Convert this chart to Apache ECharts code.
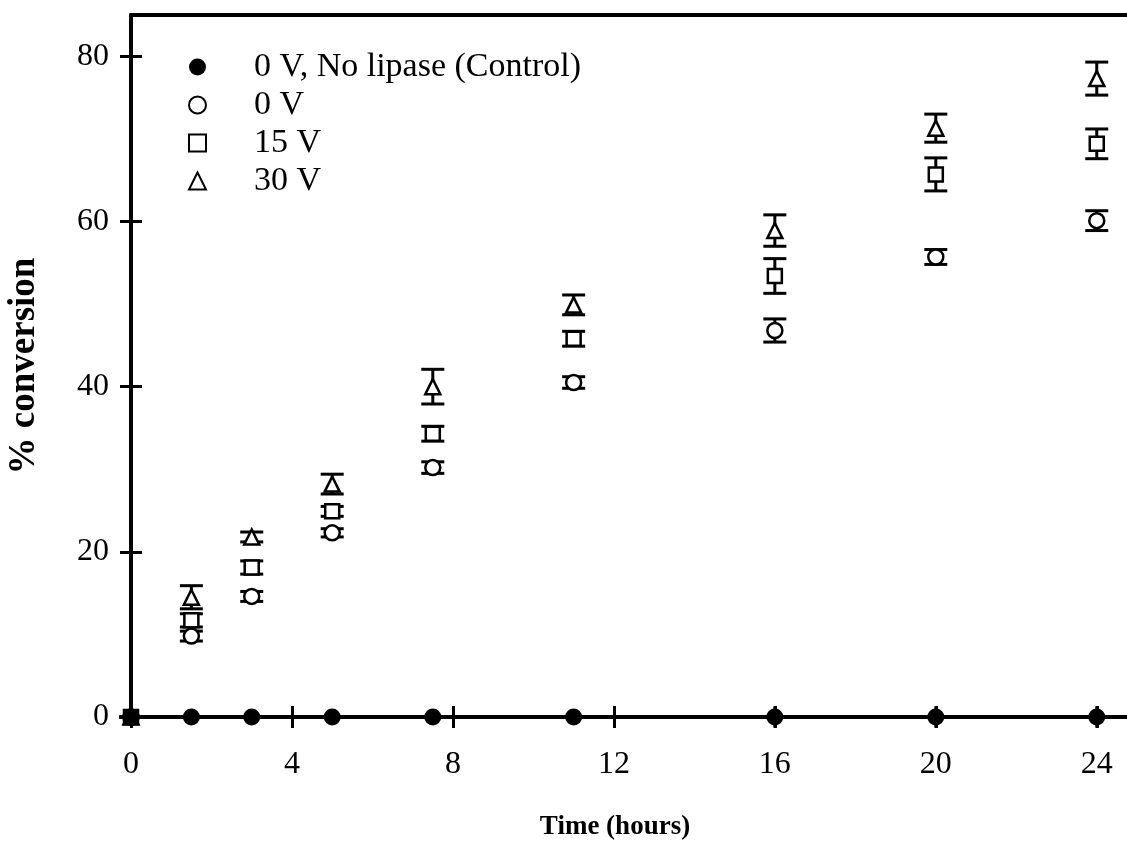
<!DOCTYPE html>
<html>
<head>
<meta charset="utf-8">
<script src="https://cdn.jsdelivr.net/npm/echarts@6/dist/echarts.min.js"></script>
<style>
  html, body { margin: 0; padding: 0; background: #fff; }
  #chart { width: 1127px; height: 842px; }
</style>
</head>
<body>
<div id="chart"></div>
<script>
// Sampling times (hours)
const times = [0, 1.5, 3, 5, 7.5, 11, 16, 20, 24];
const xTicks = [0, 4, 8, 12, 16, 20, 24];
const yTicks = [0, 20, 40, 60, 80];

// % conversion and error for each condition
const controlVals = [0, 0, 0, 0, 0, 0, 0, 0, 0];
const controlErr  = [0, 0, 0, 0, 0, 0, 1.3, 1.3, 1.3];
const v0Vals  = [0, 9.8, 14.6, 22.3, 30.2, 40.5, 46.8, 55.7, 60.1];
const v0Err   = [0, 0.6, 0.6, 0.5, 0.7, 0.7, 1.4, 0.9, 1.2];
const v15Vals = [0, 11.7, 18.1, 24.9, 34.3, 45.8, 53.4, 65.7, 69.4];
const v15Err  = [0, 0.8, 0.8, 0.6, 0.9, 0.9, 2.1, 2.0, 1.8];
const v30Vals = [0, 14.5, 21.8, 28.2, 40.0, 49.9, 58.9, 71.3, 77.3];
const v30Err  = [0, 1.4, 0.6, 1.2, 2.1, 1.2, 1.9, 1.7, 2.0];

const names = ['0 V, No lipase (Control)', '0 V', '15 V', '30 V'];

const FONT = "'Liberation Serif', 'Times New Roman', serif";

function points(vals) { return times.map((t, i) => [t, vals[i]]); }
function bars(vals, errs) { return times.map((t, i) => [t, vals[i] - errs[i], vals[i] + errs[i]]); }

// Vertical error bar with horizontal caps
function errorBarSeries(vals, errs, capHalf) {
  return {
    type: 'custom',
    silent: true,
    clip: false,
    z: 3,
    data: bars(vals, errs),
    renderItem: function (params, api) {
      const x = api.value(0);
      const lo = api.coord([x, api.value(1)]);
      const hi = api.coord([x, api.value(2)]);
      const st = { stroke: '#000', lineWidth: 3 };
      const children = [
        { type: 'line', shape: { x1: lo[0], y1: lo[1], x2: hi[0], y2: hi[1] }, style: st }
      ];
      if (capHalf > 0) {
        children.push(
          { type: 'line', shape: { x1: lo[0] - capHalf, y1: lo[1], x2: lo[0] + capHalf, y2: lo[1] }, style: st },
          { type: 'line', shape: { x1: hi[0] - capHalf, y1: hi[1], x2: hi[0] + capHalf, y2: hi[1] }, style: st }
        );
      }
      return { type: 'group', children: children };
    }
  };
}

const openStyle = { color: '#fff', borderColor: '#000', borderWidth: 2.5, opacity: 1 };
const tickStyle = { color: '#000', width: 3 };

const chart = echarts.init(document.getElementById('chart'), null, { renderer: 'canvas' });

chart.setOption({
  animation: false,
  backgroundColor: '#fff',
  grid: {
    left: 131, top: 15, right: -10, bottom: 125,
    outerBoundsMode: 'none', containLabel: false
  },
  legend: {
    orient: 'vertical',
    left: 183, top: 45,
    itemWidth: 17, itemHeight: 17, itemGap: 4,
    data: names,
    textStyle: { fontFamily: FONT, fontSize: 34, lineHeight: 34, color: '#000', padding: [0, 0, 0, 43] }
  },
  xAxis: [
    {
      type: 'value', min: 0, max: 25, position: 'bottom',
      name: 'Time (hours)', nameLocation: 'middle', nameGap: 97,
      nameTextStyle: { fontFamily: FONT, fontSize: 27, fontWeight: 'bold', color: '#000', padding: [0, 38, 0, 0] },
      splitLine: { show: false },
      axisLine: { show: true, onZero: false, lineStyle: { color: '#000', width: 4 } },
      axisTick: { show: true, inside: true, length: 11, lineStyle: tickStyle, customValues: xTicks },
      axisLabel: { fontFamily: FONT, fontSize: 32, color: '#000', margin: 32, customValues: xTicks }
    },
    {
      // outward half of the crossing ticks
      type: 'value', min: 0, max: 25, position: 'bottom',
      splitLine: { show: false },
      axisLine: { show: false },
      axisTick: { show: true, inside: false, length: 11, lineStyle: tickStyle, customValues: xTicks },
      axisLabel: { show: false }
    },
    {
      // top frame line
      type: 'value', min: 0, max: 25, position: 'top',
      splitLine: { show: false },
      axisLine: { show: true, onZero: false, lineStyle: { color: '#000', width: 4 } },
      axisTick: { show: false },
      axisLabel: { show: false }
    }
  ],
  yAxis: [
    {
      type: 'value', min: 0, max: 85, position: 'left',
      name: '% conversion', nameLocation: 'middle', nameGap: 88, nameRotate: 90,
      nameTextStyle: { fontFamily: FONT, fontSize: 37, fontWeight: 'bold', color: '#000' },
      splitLine: { show: false },
      axisLine: { show: true, onZero: false, lineStyle: { color: '#000', width: 4 } },
      axisTick: { show: true, inside: true, length: 11, lineStyle: tickStyle, customValues: yTicks },
      axisLabel: { fontFamily: FONT, fontSize: 32, color: '#000', margin: 22, customValues: yTicks }
    },
    {
      // outward half of the crossing ticks
      type: 'value', min: 0, max: 85, position: 'left',
      splitLine: { show: false },
      axisLine: { show: false },
      axisTick: { show: true, inside: false, length: 11, lineStyle: tickStyle, customValues: yTicks },
      axisLabel: { show: false }
    }
  ],
  series: [
    errorBarSeries(controlVals, controlErr, 0),
    errorBarSeries(v0Vals, v0Err, 11.5),
    errorBarSeries(v15Vals, v15Err, 11.5),
    errorBarSeries(v30Vals, v30Err, 11.5),
    {
      name: names[3], type: 'scatter', clip: false, z: 4,
      symbol: 'triangle', symbolSize: 15,
      itemStyle: openStyle, data: points(v30Vals)
    },
    {
      name: names[2], type: 'scatter', clip: false, z: 5,
      symbol: 'rect', symbolSize: 14,
      itemStyle: openStyle, data: points(v15Vals)
    },
    {
      name: names[1], type: 'scatter', clip: false, z: 6,
      symbol: 'circle', symbolSize: 15,
      itemStyle: openStyle, data: points(v0Vals)
    },
    {
      name: names[0], type: 'scatter', clip: false, z: 7,
      symbol: 'circle', symbolSize: 17,
      itemStyle: { color: '#000', borderColor: '#000', borderWidth: 0, opacity: 1 },
      data: points(controlVals)
    }
  ]
});
</script>
</body>
</html>
